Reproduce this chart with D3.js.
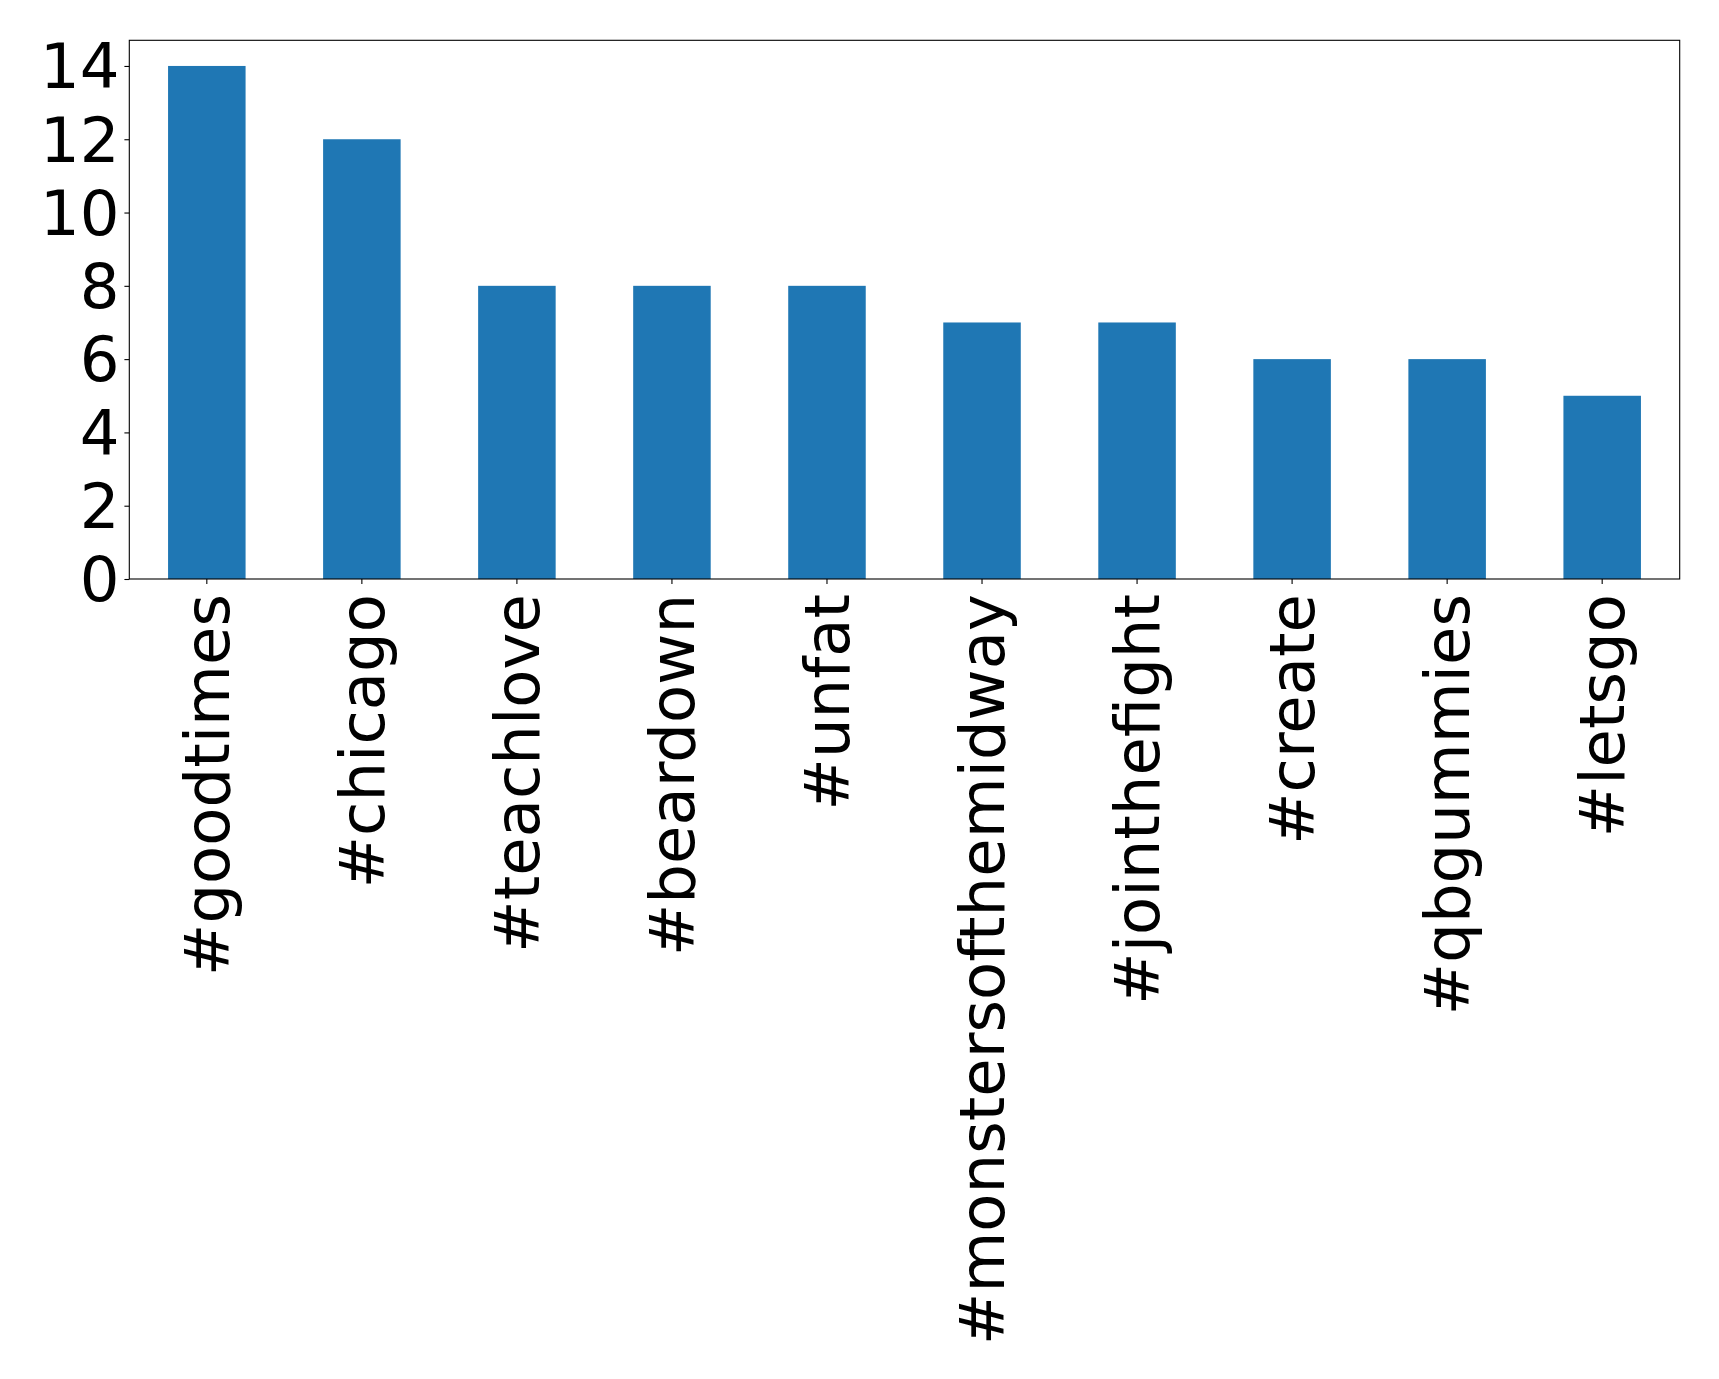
<!DOCTYPE html>
<html>
<head>
<meta charset="utf-8">
<script src="https://cdn.jsdelivr.net/npm/d3@7"></script>
<style>
  html, body { margin: 0; padding: 0; background: #fff; }
  svg { display: block; }
</style>
</head>
<body>
<svg id="chart" width="1719" height="1379"></svg>
<script>
const categories = ["#goodtimes", "#chicago", "#teachlove", "#beardown", "#unfat",
  "#monstersofthemidway", "#jointhefight", "#create", "#qbgummies", "#letsgo"];
const values = [14, 12, 8, 8, 8, 7, 7, 6, 6, 5];
const yTicks = [0, 2, 4, 6, 8, 10, 12, 14];

const W = 1719, H = 1379;
const margin = { left: 129.3, right: W - 1679.7, top: 40.3, bottom: H - 579 };
const iw = W - margin.left - margin.right;
const ih = H - margin.top - margin.bottom;
const fontSize = 62.5;
const font = "'DejaVu Sans', sans-serif";

const svg = d3.select("#chart");
const g = svg.append("g").attr("transform", `translate(${margin.left},${margin.top})`);

const x = d3.scaleBand().domain(categories).range([0, iw]).paddingInner(0.5).paddingOuter(0.25);
const y = d3.scaleLinear().domain([0, 14.7]).range([ih, 0]);

g.selectAll("rect.bar").data(values).join("rect")
  .attr("class", "bar")
  .attr("x", (d, i) => x(categories[i]))
  .attr("width", x.bandwidth())
  .attr("y", d => y(d))
  .attr("height", d => y(0) - y(d))
  .attr("fill", "#1f77b4");

const yAxis = g.append("g").call(d3.axisLeft(y).tickValues(yTicks).tickSize(4.9).tickPadding(4.9).tickFormat(d3.format("d")));
const xAxis = g.append("g").attr("transform", `translate(0,${ih})`)
  .call(d3.axisBottom(x).tickSize(4.9).tickPadding(4.9));

[yAxis, xAxis].forEach(a => {
  a.select(".domain").remove();
  a.selectAll("line").attr("stroke", "#000").attr("stroke-width", 1.1);
  a.selectAll("text").attr("fill", "#000").style("font-family", font).style("font-size", fontSize + "px");
});

xAxis.selectAll("text")
  .attr("transform", "rotate(-90)")
  .attr("text-anchor", "end")
  .attr("x", -15)
  .attr("y", 0)
  .attr("dy", "0.35em");

yAxis.selectAll("text").attr("dy", "0.35em");

// frame
g.append("rect").attr("x", 0).attr("y", 0).attr("width", iw).attr("height", ih)
  .attr("fill", "none").attr("stroke", "#000").attr("stroke-width", 1.1);
</script>
</body>
</html>
